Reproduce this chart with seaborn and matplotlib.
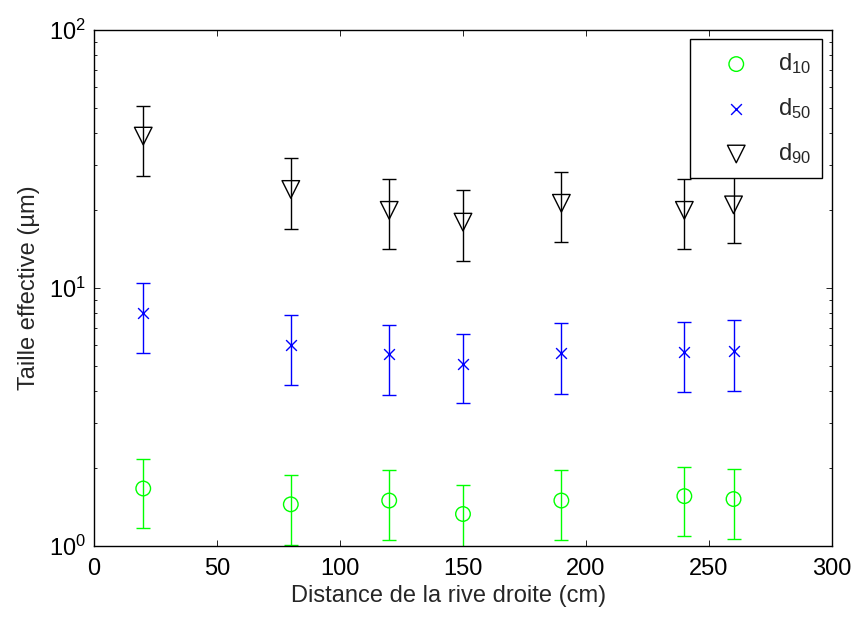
import numpy as np
import pandas as pd
import seaborn as sns
import matplotlib
matplotlib.use("Agg")
import matplotlib.pyplot as plt

# distances from the right bank (cm)
distance = [20, 80, 120, 150, 190, 240, 260]

# effective sizes (um), with lower / upper error bar ends
d10 = [1.67, 1.45, 1.50, 1.33, 1.50, 1.56, 1.52]
d10_lo = [1.17, 1.01, 1.05, 0.93, 1.05, 1.09, 1.06]
d10_hi = [2.18, 1.89, 1.97, 1.73, 1.97, 2.03, 1.98]

d50 = [8.02, 6.01, 5.53, 5.08, 5.61, 5.65, 5.71]
d50_lo = [5.60, 4.20, 3.85, 3.58, 3.89, 3.94, 4.00]
d50_hi = [10.48, 7.84, 7.21, 6.63, 7.30, 7.40, 7.50]

d90 = [38.8, 24.1, 20.0, 18.0, 21.3, 20.0, 21.0]
d90_lo = [27.2, 17.0, 14.2, 12.7, 15.1, 14.2, 14.9]
d90_hi = [50.9, 31.8, 26.5, 23.9, 28.2, 26.5, 27.2]

labels = ["d$_{10}$", "d$_{50}$", "d$_{90}$"]

sns.set_style("white")
plt.rcParams['font.family'] = ['Liberation Sans', 'DejaVu Sans']
plt.rcParams['mathtext.fontset'] = 'custom'
plt.rcParams['mathtext.rm'] = 'Liberation Sans'
plt.rcParams['mathtext.it'] = 'Liberation Sans:italic'

fig = plt.figure(figsize=(8.55, 6.19), dpi=100)
ax = fig.add_axes([0.110, 0.118, 0.863, 0.8335])

series = [
    (d10, d10_lo, d10_hi, "#00ff00", "o", 110),
    (d50, d50_lo, d50_hi, "#0000ff", "x", 60),
    (d90, d90_lo, d90_hi, "black", "v", 160),
]

for (vals, lo, hi, col, mk, size), lab in zip(series, labels):
    vals = np.array(vals)
    yerr = [vals - np.array(lo), np.array(hi) - vals]
    ax.errorbar(distance, vals, yerr=yerr, fmt="none", ecolor=col,
                elinewidth=1.0, capsize=4.8, capthick=1.0)
    df = pd.DataFrame({"x": distance, "y": vals})
    if mk == "x":
        sns.scatterplot(data=df, x="x", y="y", ax=ax, marker="x", s=size,
                        color=col, linewidth=1.0, label=lab, zorder=3)
    else:
        sns.scatterplot(data=df, x="x", y="y", ax=ax, marker=mk, s=size,
                        facecolors="none", edgecolor=col, linewidth=1.0,
                        label=lab, zorder=3)

ax.set_yscale("log")
ax.set_xlim(0, 300)
ax.set_ylim(1, 100)
ax.set_xticks([0, 50, 100, 150, 200, 250, 300])

ax.set_xlabel("Distance de la rive droite (cm)", fontsize=17, labelpad=3, x=0.48)
ax.set_ylabel("Taille effective (µm)", fontsize=17, labelpad=6)

for s in ax.spines.values():
    s.set_visible(True)
    s.set_color("black")
    s.set_linewidth(1.0)

ax.tick_params(which="both", direction="in", top=True, right=True,
               bottom=True, left=True, labelsize=17, colors="black")
ax.tick_params(which="major", length=4.5, width=0.6)
ax.tick_params(axis="x", which="major", pad=9)
ax.tick_params(axis="y", which="major", pad=6)
ax.tick_params(which="minor", length=2.5, width=0.6)

leg = ax.legend(loc="upper right", fontsize=17, frameon=True, fancybox=False,
                edgecolor="black", framealpha=1, labelspacing=0.85,
                handletextpad=0.3, borderpad=0.5, borderaxespad=0.4,
                handlelength=2.9)
leg.get_frame().set_linewidth(1.0)

fig.savefig("out.png", dpi=100)
